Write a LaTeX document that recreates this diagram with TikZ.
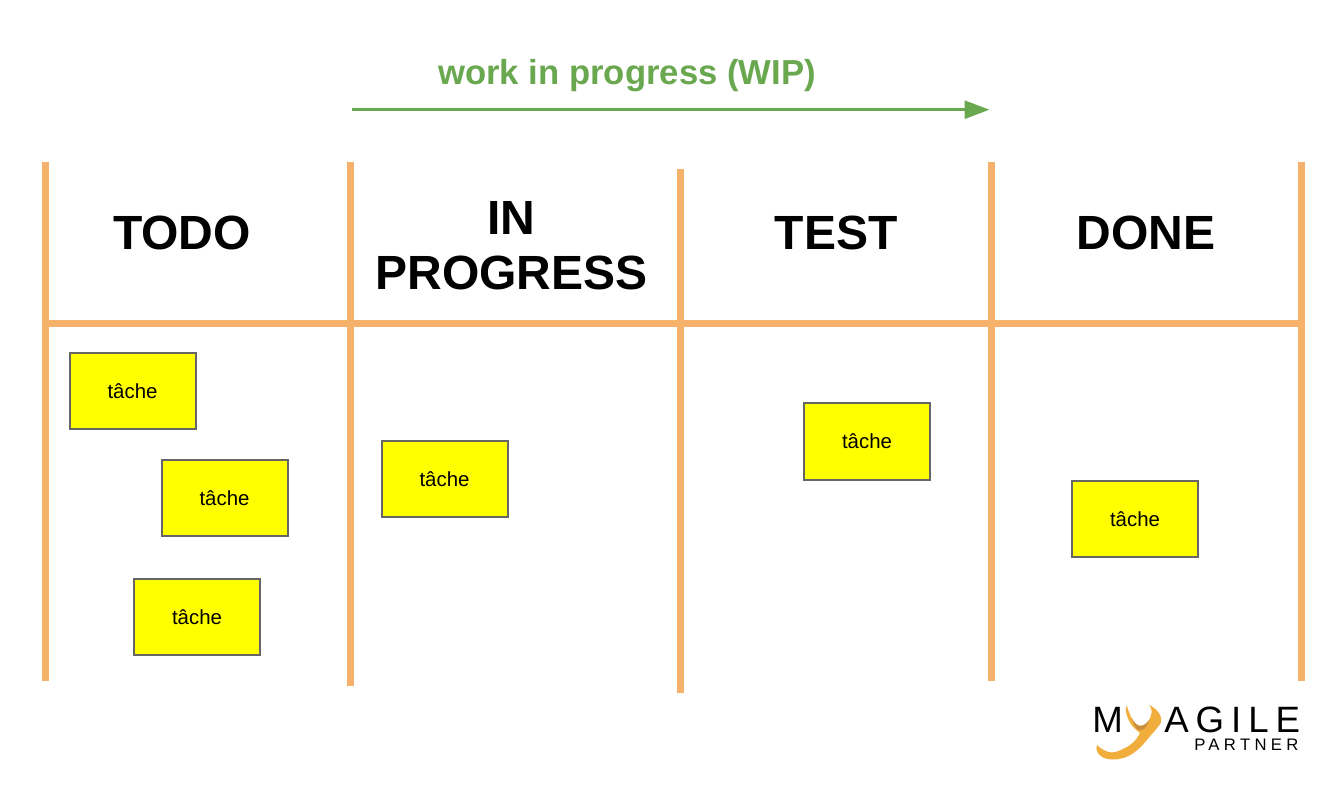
\documentclass[tikz,border=0pt]{standalone}
\usepackage{fontspec}
\setmainfont{Liberation Sans}
\usetikzlibrary{arrows.meta}
\definecolor{lane}{HTML}{F6B26B}
\definecolor{wip}{HTML}{6AA84F}
\definecolor{bird}{HTML}{F2AE3D}
\definecolor{birddark}{HTML}{C98F3C}
\definecolor{edgegray}{HTML}{666666}
\definecolor{sticky}{HTML}{FFFF00}
\tikzset{
  lanerule/.style={draw=lane,line width=5.25pt},
  heading/.style={font=\fontsize{36}{42}\selectfont\bfseries,text=black,align=center,inner sep=0pt},
  tache/.style={draw=edgegray,line width=1.5pt,fill=sticky,minimum width=94.5pt,minimum height=57.5pt,
    inner sep=0pt,font=\fontsize{15.3}{18}\selectfont,text=black},
  logotext/.style={inner sep=0pt,anchor=base west,text=black}
}
\begin{document}
\begin{tikzpicture}[x=0.75pt,y=-0.75pt]
\useasboundingbox (0,0) rectangle (1330,792);
\fill[white] (0,0) rectangle (1330,792);
% lanes
\draw[lanerule] (45,162) -- (45,681);
\draw[lanerule] (350,162) -- (350,686);
\draw[lanerule] (680,169) -- (680,693);
\draw[lanerule] (991,162) -- (991,681);
\draw[lanerule] (1301,162) -- (1301,681);
\draw[lanerule] (42,323.7) -- (1304,323.7);
% arrow
\coordinate (wipstart) at (352,109.7);
\coordinate (wipend) at (989.5,109.7);
\draw[wip,line width=2pt,-{Triangle[length=18.75pt,width=13.5pt]}] (wipstart) -- (wipend);
\node[inner sep=0pt,text=wip,font=\fontsize{26}{30}\selectfont\bfseries] (wiplabel) at (627,76) {work in progress (WIP)};
% headings
\node[heading] (todo) at (182,233) {TODO};
\node[heading] (inprogress) at (511.5,245.5) {IN\\[-0.5pt]PROGRESS};
\node[heading] (test) at (836,233) {TEST};
\node[heading] (done) at (1146,233) {DONE};
% tasks
\node[tache] (t1) at (132.5,391) {tâche};
\node[tache] (t2) at (224.5,498) {tâche};
\node[tache] (t3) at (197,617) {tâche};
\node[tache] (t4) at (444.5,479) {tâche};
\node[tache] (t5) at (867,441.5) {tâche};
\node[tache] (t6) at (1135,519) {tâche};
% logo
\node[logotext,font=\fontsize{27.5}{29}\selectfont] (logom) at (1092,732) {M};
\node[logotext,font=\fontsize{27.5}{29}\selectfont\addfontfeature{LetterSpace=19}] (logoagile) at (1164,732) {AGILE};
\node[logotext,font=\fontsize{12.5}{14}\selectfont\addfontfeature{LetterSpace=26}] (logopartner) at (1194,750) {PARTNER};
\fill[bird] (1126.7,705.7) .. controls (1125,709) and (1126,713) .. (1127.3,716.7)
  .. controls (1129,722) and (1132,727) .. (1140,733)
  .. controls (1136,741) and (1130,746) .. (1123,749)
  .. controls (1117,752) and (1113,753) .. (1109,752)
  .. controls (1105,751) and (1101,749) .. (1097,745)
  .. controls (1095,750) and (1098,755) .. (1103,757.5)
  .. controls (1110,761) and (1123,760) .. (1132,754)
  .. controls (1141,748) and (1147,740) .. (1151,735)
  .. controls (1155,731) and (1158,727) .. (1160.7,723)
  .. controls (1162,720) and (1161,717) .. (1160,715)
  .. controls (1158,711) and (1154,707) .. (1149,705)
  .. controls (1151,708) and (1152,710) .. (1151.7,712)
  .. controls (1151,716) and (1150,719) .. (1148,722)
  .. controls (1145,725) and (1143,726) .. (1140,725.7)
  .. controls (1136,725) and (1133,721) .. (1131.7,718)
  .. controls (1129,713) and (1128,709) .. (1126.7,705.7) -- cycle;
\fill[birddark] (1131.7,718) .. controls (1134,723) and (1137,725.5) .. (1140,726)
  .. controls (1143,726) and (1146,724) .. (1149,720)
  .. controls (1148,725) and (1145,730) .. (1140,730.5)
  .. controls (1136,730) and (1133,724) .. (1131.7,718) -- cycle;
\end{tikzpicture}
\end{document}
